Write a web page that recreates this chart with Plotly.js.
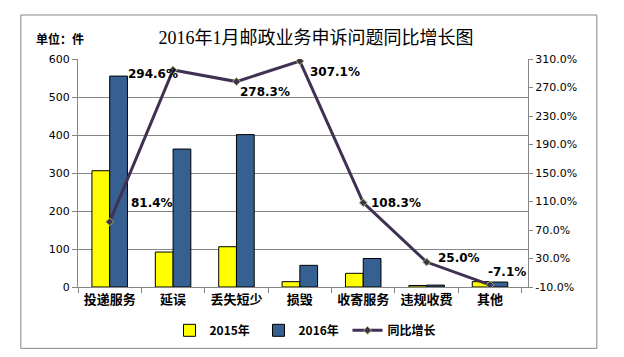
<!DOCTYPE html>
<html>
<head>
<meta charset="utf-8">
<script src="https://cdn.plot.ly/plotly-3.0.1.min.js"></script>
<style>
html,body{margin:0;padding:0;background:#fff;}
#chart{width:624px;height:357px;}
</style>
</head>
<body>
<div id="chart"></div>
<script>
const categories = ['投递服务','延误','丢失短少','损毁','收寄服务','违规收费','其他'];
const values2015 = [306, 92, 106, 14, 36, 4, 14];
const values2016 = [555, 363, 401, 57, 75, 5, 13];
const growth = [81.4, 294.6, 278.3, 307.1, 108.3, 25.0, -7.1];
const leftTicks = [0, 100, 200, 300, 400, 500, 600];
const rightTicks = [-10, 30, 70, 110, 150, 190, 230, 270, 310];

// label placement offsets (pixels) for each growth label
const labelShiftX = [42, -20, 29, 35, 33, 32, 17];
const labelShiftY = [19, -4, -10, -11, 0, 4, 13];

const cjk = '"Noto Sans CJK SC", sans-serif';
const tickFont = {family: '"DejaVu Sans", sans-serif', size: 11, color: '#000'};

const traces = [
  {type:'bar', name:'2015年', x:categories, y:values2015,
   marker:{color:'#FFFF00', line:{color:'#000', width:1}}},
  {type:'bar', name:'2016年', x:categories, y:values2016,
   marker:{color:'#376092', line:{color:'#000', width:1}}},
  {type:'scatter', mode:'lines+markers', name:'同比增长', x:categories, y:growth, yaxis:'y2',
   line:{color:'#403152', width:3},
   marker:{symbol:'diamond', size:6, color:'#403152', line:{color:'#9BBB59', width:1}}}
];

const annotations = growth.map((g,i)=>({
  x: categories[i], y: g, xref:'x', yref:'y2',
  text: g.toFixed(1) + '%', showarrow:false,
  xshift: labelShiftX[i], yshift: labelShiftY[i],
  font:{family:'"DejaVu Sans", sans-serif', size:12, color:'#000', weight:'bold'}
}));
annotations.push({
  x:-0.098, y:1.092, xref:'paper', yref:'paper', xanchor:'left', yanchor:'middle',
  text:'单位：件', showarrow:false,
  font:{family:cjk, size:12, color:'#000', weight:'bold'}
});

const layout = {
  width:624, height:357,
  margin:{l:78, r:96, t:59, b:70},
  paper_bgcolor:'#fff', plot_bgcolor:'#fff',
  title:{text:'2016年1月邮政业务申诉问题同比增长图', x:0.529, xref:'paper', xanchor:'center',
         y:1-38/357, yref:'container', yanchor:'middle',
         font:{family:'"Liberation Serif", "Noto Sans CJK SC", serif', size:18, color:'#000'}},
  barmode:'group', bargap:0.44, bargroupgap:0,
  showlegend:true,
  legend:{orientation:'h', x:0.5, xanchor:'center', y:-0.19, yanchor:'middle',
          font:{family:cjk, size:12, color:'#000', weight:'bold'}, traceorder:'normal',
          itemwidth:30, entrywidth:44, entrywidthmode:'pixels'},
  xaxis:{type:'category', showline:true, linecolor:'#868686', linewidth:1,
         ticks:'outside', tickson:'boundaries', ticklen:5, tickcolor:'#868686',
         tickfont:{family:cjk, size:13, color:'#000', weight:'bold'}, showgrid:false, fixedrange:true},
  yaxis:{range:[0,600], tickvals:leftTicks, ticktext:leftTicks.map(String),
         showline:true, linecolor:'#868686', linewidth:1, mirror:false,
         showgrid:true, gridcolor:'#868686', gridwidth:1, zeroline:false,
         ticks:'outside', ticklen:5, tickcolor:'#868686', tickfont:tickFont},
  yaxis2:{overlaying:'y', side:'right', range:[-10,310], tickvals:rightTicks,
          ticktext:rightTicks.map(v=>v.toFixed(1)+'%'),
          showline:true, linecolor:'#868686', linewidth:1, showgrid:false, zeroline:false,
          ticks:'outside', ticklen:4, tickcolor:'#868686', tickfont:tickFont},
  annotations:annotations,
  shapes:[{type:'rect', xref:'paper', yref:'paper', x0:-0.127, x1:1.153, y0:-0.269, y1:1.193,
           line:{color:'#868686', width:1}, fillcolor:'rgba(0,0,0,0)', layer:'below'}]
};

Plotly.newPlot('chart', traces, layout, {displayModeBar:false, staticPlot:true});
</script>
</body>
</html>
